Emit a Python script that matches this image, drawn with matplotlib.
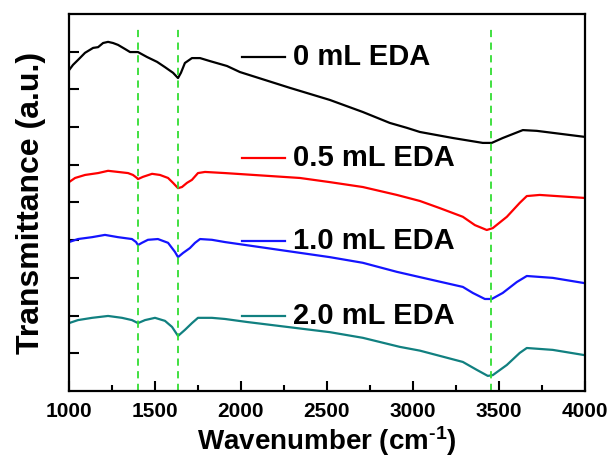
"""
FTIR spectra of samples prepared with different EDA volumes.
"""

import numpy as np
import matplotlib
matplotlib.use("Agg")
import matplotlib.pyplot as plt

plt.rcParams["font.family"] = ["Liberation Sans", "DejaVu Sans"]
plt.rcParams["font.weight"] = "bold"
plt.rcParams["mathtext.fontset"] = "custom"
plt.rcParams["mathtext.rm"] = "Liberation Sans:bold"
plt.rcParams["mathtext.bf"] = "Liberation Sans:bold"
plt.rcParams["mathtext.default"] = "bf"

# wavenumber (cm-1) / transmittance (a.u., offset)
wn_0 = [1000, 1023, 1052, 1093, 1140, 1169, 1198, 1227, 1256, 1285, 1326, 1355,
        1401, 1453, 1512, 1558, 1605, 1634, 1651, 1674, 1715, 1762, 1820, 1919,
        1994, 2285, 2517, 2709, 2866, 2965, 3041, 3233, 3407, 3459, 3523, 3640,
        3721, 4000]
tr_0 = [8.51, 8.65, 8.78, 8.97, 9.10, 9.12, 9.23, 9.26, 9.23, 9.18, 9.07, 8.99,
        8.99, 8.86, 8.73, 8.59, 8.44, 8.30, 8.44, 8.70, 8.83, 8.83, 8.75, 8.62,
        8.46, 8.04, 7.72, 7.40, 7.11, 6.98, 6.87, 6.71, 6.58, 6.58, 6.71, 6.92,
        6.90, 6.74]

wn_05 = [1000, 1035, 1093, 1169, 1227, 1285, 1343, 1372, 1395, 1401, 1430, 1483,
         1529, 1576, 1605, 1634, 1657, 1686, 1715, 1750, 1791, 1907, 2343, 2517,
         2709, 2907, 3041, 3157, 3291, 3361, 3430, 3465, 3547, 3622, 3663, 3738,
         4000]
tr_05 = [5.54, 5.65, 5.73, 5.78, 5.84, 5.81, 5.78, 5.73, 5.65, 5.62, 5.68, 5.76,
         5.73, 5.65, 5.52, 5.38, 5.41, 5.52, 5.60, 5.78, 5.81, 5.78, 5.65, 5.54,
         5.41, 5.20, 5.04, 4.85, 4.62, 4.40, 4.27, 4.32, 4.62, 4.99, 5.17, 5.20,
         5.12]

wn_10 = [1000, 1052, 1134, 1209, 1285, 1366, 1390, 1401, 1424, 1459, 1517, 1576,
         1616, 1634, 1663, 1703, 1733, 1762, 1831, 1907, 2517, 2709, 2907, 3041,
         3291, 3349, 3419, 3459, 3523, 3605, 3663, 3814, 4000]
tr_10 = [3.95, 4.03, 4.08, 4.14, 4.08, 4.03, 3.95, 3.87, 3.93, 4.01, 4.03, 3.93,
         3.69, 3.55, 3.66, 3.79, 3.93, 4.03, 4.01, 3.95, 3.55, 3.40, 3.16, 3.02,
         2.76, 2.60, 2.44, 2.44, 2.60, 2.89, 3.05, 3.00, 2.86]

wn_20 = [1000, 1052, 1134, 1227, 1308, 1366, 1401, 1442, 1500, 1558, 1599, 1634,
         1674, 1715, 1750, 1831, 1907, 2035, 2517, 2709, 2924, 3041, 3291, 3372,
         3436, 3465, 3547, 3622, 3663, 3814, 4000]
tr_20 = [1.80, 1.88, 1.94, 1.99, 1.94, 1.88, 1.80, 1.88, 1.94, 1.86, 1.70, 1.46,
         1.62, 1.80, 1.94, 1.94, 1.91, 1.83, 1.56, 1.41, 1.17, 1.07, 0.77, 0.56,
         0.40, 0.42, 0.69, 1.01, 1.14, 1.09, 0.95]

labels = ["0 mL EDA", "0.5 mL EDA", "1.0 mL EDA", "2.0 mL EDA"]
colors = ["#000000", "#ff0000", "#1414ff", "#118080"]
peak_lines = [1400, 1634, 3453]

fig = plt.figure(figsize=(6.11, 4.66), dpi=100)
ax = fig.add_axes([0.113, 0.161, 0.844, 0.809])

series = [(wn_0, tr_0), (wn_05, tr_05), (wn_10, tr_10), (wn_20, tr_20)]
for (wn, tr), c in zip(series, colors):
    ax.plot(wn, tr, color=c, lw=1.6, solid_joinstyle="round")

ax.vlines(peak_lines, 0, 9.63, colors="#33dd33", linestyles=(0, (4, 3)), lw=1.3)

# hand-placed legend entries (rows are unevenly spaced in the original)
leg_y = [0.885, 0.617, 0.397, 0.198]
for y, lab, c in zip(leg_y, labels, colors):
    ax.plot([0.335, 0.418], [y, y], color=c, lw=1.6, transform=ax.transAxes)
    ax.text(0.435, y, lab, transform=ax.transAxes, fontsize=21,
            fontweight="bold", va="center", ha="left")

ax.set_xlim(1000, 4000)
ax.set_ylim(0, 10)
ax.set_xticks(np.arange(1000, 4001, 500))
ax.set_xticks(np.arange(1250, 4000, 500), minor=True)
ax.set_yticks(np.arange(1, 10))
ax.set_yticklabels([])
ax.tick_params(axis="both", which="major", direction="in", width=1.5, length=7)
ax.tick_params(axis="x", which="minor", direction="in", width=1.5, length=4)
ax.tick_params(axis="x", labelsize=15, pad=8)
for lab in ax.get_xticklabels():
    lab.set_fontweight("bold")
for sp in ax.spines.values():
    sp.set_linewidth(1.6)

ax.set_xlabel(r"Wavenumber (cm$^{\text{-1}}$)", fontsize=20, fontweight="bold", labelpad=2)
ax.set_ylabel("Transmittance (a.u.)", fontsize=23, fontweight="bold", labelpad=13)

fig.savefig("out.png", dpi=100)
